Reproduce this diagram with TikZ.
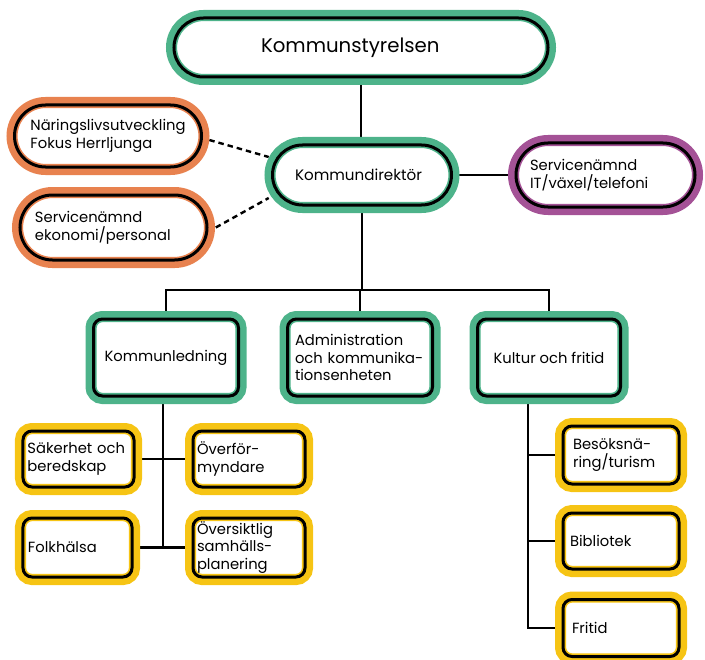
\documentclass[tikz,border=0pt]{standalone}
\usepackage{fontspec}
\setmainfont{Poppins}
\usetikzlibrary{shapes.misc,backgrounds}
\definecolor{kgreen}{HTML}{4DB38A}
\definecolor{korange}{HTML}{E8824F}
\definecolor{kpurple}{HTML}{A45296}
\definecolor{kyellow}{HTML}{F6C414}
\hyphenpenalty=10000
\exhyphenpenalty=10000
\begin{document}
\begin{tikzpicture}[x=1bp,y=-1bp,
  box/.style={draw=#1, line width=1.6bp, double=black, double distance=3bp,
    fill=white, preaction={draw=#1, line width=16bp}, inner sep=0pt,
    text=black, font=\fontsize{14.8}{18}\selectfont},
  pill/.style={box=#1, rounded rectangle},
  rbox/.style={box=#1, rectangle, rounded corners=9bp},
  conn/.style={draw=black, line width=2.4bp},
  dashconn/.style={conn, dash pattern=on 5.5bp off 4bp}
]
\useasboundingbox (0,0) rectangle (705,660);

% top level
\node[pill=kgreen, minimum width=374bp, minimum height=59bp, text width=200bp, align=left,
  font=\fontsize{19.8}{23}\selectfont] (ks) at (361,47.5) {Kommunstyrelsen};
\node[pill=kgreen, minimum width=179bp, minimum height=60bp, text width=134bp, align=left,
  font=\fontsize{15.2}{18}\selectfont] (kd) at (362,175) {Kommundirektör};
\node[pill=kpurple, minimum width=179bp, minimum height=64bp, text width=151bp, align=left] (it) at (605.5,175) {Servicenämnd\\IT/växel/telefoni};
\node[pill=korange, minimum width=187bp, minimum height=62bp, align=left] (nf) at (108,136) {Näringslivsutveckling\\Fokus Herrljunga};
\node[pill=korange, minimum width=187bp, minimum height=65bp, text width=157bp, align=left] (ek) at (113.5,227.5) {Servicenämnd\\ekonomi/personal};

% middle level
\node[rbox=kgreen, minimum width=145bp, minimum height=77bp, align=center] (kl) at (166,357.5) {Kommunledning};
\node[rbox=kgreen, minimum width=145bp, minimum height=77bp, text width=130bp, align=left] (ad) at (360,357.5) {Administration\\och~kommunika-\\tionsenheten};
\node[rbox=kgreen, minimum width=143bp, minimum height=77bp, align=center] (kf) at (549,357.5) {Kultur och fritid};

% lower left
\node[rbox=kyellow, minimum width=111bp, minimum height=56bp, text width=102bp, align=left] (sk) at (78.5,459) {Säkerhet~och\\beredskap};
\node[rbox=kyellow, minimum width=112bp, minimum height=56bp, text width=104bp, align=left] (of) at (249,459) {Överför-\\myndare};
\node[rbox=kyellow, minimum width=109bp, minimum height=59bp, text width=99bp, align=left] (fh) at (77.5,547.5) {Folkhälsa};
\node[rbox=kyellow, minimum width=112bp, minimum height=59bp, text width=104bp, align=left] (os) at (249,547.5) {Översiktlig\\samhälls-\\planering};

% lower right
\node[rbox=kyellow, minimum width=116bp, minimum height=58bp, text width=96bp, align=left] (bs) at (621,455) {Besöksnä-\\ring/turism};
\node[rbox=kyellow, minimum width=116bp, minimum height=56bp, text width=102bp, align=left] (bi) at (621,541) {Bibliotek};
\node[rbox=kyellow, minimum width=116bp, minimum height=57bp, text width=98bp, align=left] (fr) at (621,628) {Fritid};

\begin{scope}[on background layer]
  \coordinate (bar) at (361,290);
  \coordinate (kfv) at ([xshift=-21bp]kf.south);
  \draw[conn] (ks.south) -- (ks.south |- kd.north);
  \draw[conn] (kd.east) -- (it.west);
  \draw[conn] (kd.south) -- (kd.south |- bar);
  \draw[conn] (kl.north) |- (bar) -| (kf.north);
  \draw[conn] (ad.north) -- (ad.north |- bar);
  \draw[dashconn] ([shift={(7,4)}]nf.east) -- ([shift={(-3,-18)}]kd.west);
  \draw[dashconn] ([shift={(8,0)}]ek.east) -- ([shift={(-3,23)}]kd.west);
  \draw[conn] ([xshift=-3bp]kl.south) -- ([xshift=-3bp]kl.south |- fh.east);
  \draw[conn] (sk.east) -- (of.west);
  \draw[conn] (fh.east) -- (fh.east -| os.west);
  \draw[conn] (kfv) |- (fr.west);
  \draw[conn] (bs.west) -- (bs.west -| kfv);
  \draw[conn] (bi.west) -- (bi.west -| kfv);
\end{scope}
\end{tikzpicture}
\end{document}
